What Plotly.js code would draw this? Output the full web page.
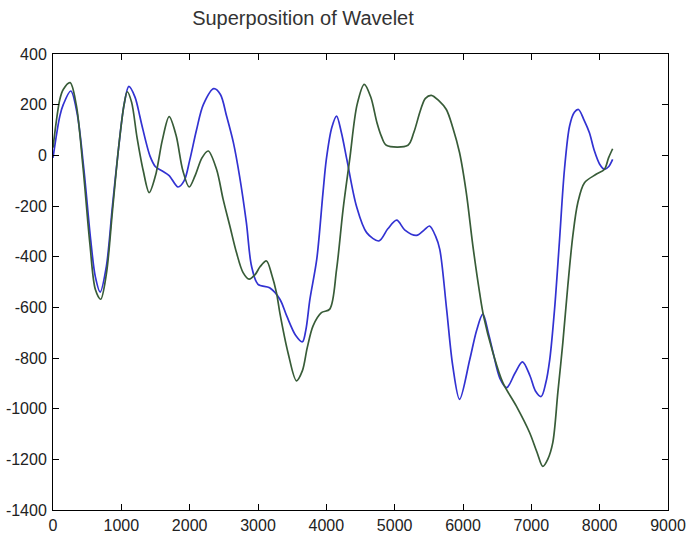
<!DOCTYPE html>
<html>
<head>
<meta charset="utf-8">
<script src="https://cdn.plot.ly/plotly-3.0.1.min.js"></script>
<style>html,body{margin:0;padding:0;background:#fff;}#chart{width:687px;height:536px;}</style>
</head>
<body>
<div id="chart"></div>
<script>
// Blue series (readings)
const blueX = [0,100,150,260,350,450,550,620,690,780,870,960,1040,1110,1200,1270,1300,1420,1500,1600,1700,1830,1920,2000,2100,2200,2354,2450,2540,2640,2730,2830,2905,3000,3170,3320,3420,3550,3650,3700,3760,3860,3950,4000,4080,4150,4220,4300,4440,4590,4770,4900,5030,5150,5320,5430,5510,5600,5660,5760,5850,5950,6100,6200,6290,6370,6440,6540,6640,6760,6870,6980,7060,7144,7210,7270,7340,7410,7485,7560,7630,7690,7770,7850,7920,8000,8070,8130,8190];
const blueY = [-10,155,200,254,170,-50,-330,-480,-540,-440,-200,30,200,272,230,155,120,-3,-45,-62,-80,-125,-100,-20,100,200,263,240,155,50,-82,-266,-437,-509,-523,-568,-634,-710,-736,-690,-568,-410,-150,-16,110,155,90,-16,-200,-305,-338,-290,-256,-295,-316,-295,-279,-320,-371,-607,-831,-963,-805,-690,-627,-700,-778,-880,-917,-860,-815,-870,-930,-952,-900,-805,-607,-345,-55,116,170,181,140,89,20,-35,-55,-45,-16];
// Green series (readings)
const greenX = [0,100,150,250,340,440,540,620,697,780,870,960,1040,1087,1150,1230,1320,1408,1500,1600,1700,1800,1900,1993,2080,2180,2271,2393,2490,2588,2685,2782,2870,2960,3030,3124,3200,3270,3319,3440,3563,3650,3720,3806,3928,4050,4150,4245,4342,4450,4555,4650,4740,4805,4878,5195,5280,5380,5450,5536,5650,5756,5850,5950,6048,6145,6243,6301,6437,6583,6779,6974,7080,7168,7240,7314,7388,7461,7534,7607,7680,7778,7948,8070,8130,8190];
const greenY = [30,221,260,287,200,-50,-350,-530,-568,-470,-220,30,200,251,210,70,-60,-147,-80,60,153,80,-60,-125,-80,-10,17,-55,-174,-279,-384,-463,-489,-470,-440,-417,-470,-542,-621,-780,-890,-850,-760,-673,-621,-607,-450,-213,-16,200,280,230,130,76,40,40,90,180,225,237,215,181,110,10,-147,-358,-542,-634,-778,-897,-989,-1094,-1170,-1228,-1200,-1134,-936,-739,-515,-318,-187,-108,-75,-55,-10,26];

const xTickVals = [0,1000,2000,3000,4000,5000,6000,7000,8000,9000];
const xTickText = ["0","1000","2000","3000","4000","5000","6000","7000","8000","9000"];
const yTickVals = [400,200,0,-200,-400,-600,-800,-1000,-1200,-1400];
const yTickText = ["400","200","0","-200","-400","-600","-800","-1000","-1200","-1400"];

const titleText = "Superposition of Wavelet";

const traces = [
  {x: blueX, y: blueY, type: 'scatter', mode: 'lines', line: {color: '#3232d2', width: 1.7, shape: 'spline', smoothing: 0.9}, showlegend: false, hoverinfo: 'skip'},
  {x: greenX, y: greenY, type: 'scatter', mode: 'lines', line: {color: '#385c38', width: 1.7, shape: 'spline', smoothing: 0.9}, showlegend: false, hoverinfo: 'skip'}
];

const axisCommon = {
  showgrid: false, zeroline: false, showline: true, linecolor: '#000', linewidth: 1,
  ticks: 'inside', ticklen: 6, tickcolor: '#000', mirror: 'ticks',
  tickfont: {family: 'Liberation Sans, Arial, sans-serif', size: 16, color: '#222'},
  tickmode: 'array'
};

const layout = {
  width: 687, height: 536,
  margin: {l: 53, r: 19, t: 54, b: 26, pad: 0},
  paper_bgcolor: '#fff', plot_bgcolor: '#fff',
  title: {text: titleText, font: {family: 'Liberation Sans, Arial, sans-serif', size: 20, color: '#333'},
          x: 0.441, xref: 'container', xanchor: 'center', y: 0.966, yref: 'container', yanchor: 'middle'},
  xaxis: Object.assign({}, axisCommon, {range: [0, 9000], tickvals: xTickVals, ticktext: xTickText, ticklabelstandoff: 1}),
  yaxis: Object.assign({}, axisCommon, {range: [-1400, 400], tickvals: yTickVals, ticktext: yTickText, ticklabelstandoff: 2}),
  showlegend: false
};

Plotly.newPlot('chart', traces, layout, {staticPlot: true, displayModeBar: false});
</script>
</body>
</html>
